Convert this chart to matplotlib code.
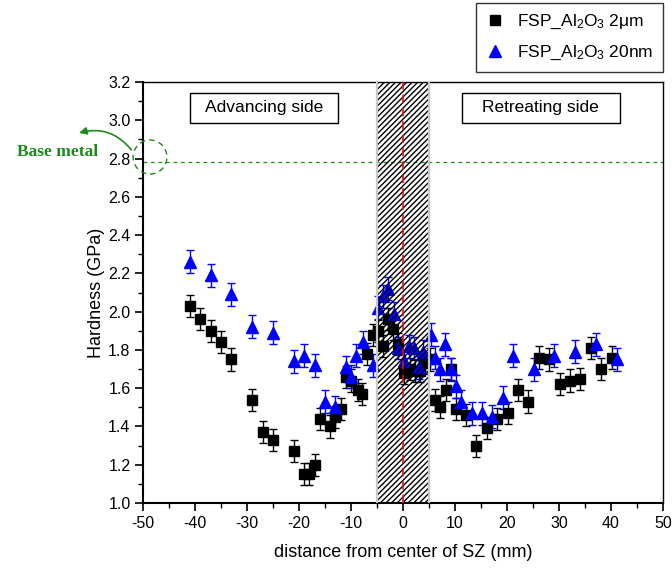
import matplotlib
matplotlib.use("Agg")
import matplotlib.pyplot as plt
from matplotlib.patches import Rectangle, Ellipse, FancyArrowPatch
from matplotlib.lines import Line2D
from matplotlib.ticker import MultipleLocator

plt.rcParams["font.family"] = ["Liberation Sans", "DejaVu Sans"]
plt.rcParams["mathtext.fontset"] = "custom"
plt.rcParams["mathtext.rm"] = "Liberation Sans"
plt.rcParams["mathtext.it"] = "Liberation Sans:italic"
plt.rcParams["hatch.linewidth"] = 1.0
plt.rcParams["axes.unicode_minus"] = False

# Hardness profile across the stir zone, FSP with 2 µm Al2O3 particles
dist_2um = [-41, -39, -37, -35, -33, -29, -27, -25, -21, -19, -18, -17, -16,
            -14, -13, -12, -11, -10, -8.6, -7.8, -7, -5.7, -4.75, -3.8, -2.8,
            -1.9, -0.9, 0.1, 1.3, 2.3, 3.3, 4.2, 5.2, 6.2, 7.1, 8.2, 9.2,
            10.2, 12.1, 14.1, 16.1, 18.1, 20.1, 22.1, 24.1, 26.1, 28.1, 30.1,
            32.1, 34.0, 36.1, 38.1, 40.1]
hard_2um = [2.03, 1.96, 1.90, 1.84, 1.75, 1.54, 1.37, 1.33, 1.27, 1.15, 1.15,
            1.20, 1.44, 1.40, 1.45, 1.49, 1.66, 1.64, 1.59, 1.57, 1.78, 1.88,
            1.90, 1.82, 1.96, 1.91, 1.83, 1.68, 1.70, 1.69, 1.69, 1.73, 1.75,
            1.54, 1.50, 1.59, 1.70, 1.49, 1.46, 1.30, 1.39, 1.44, 1.47, 1.59,
            1.53, 1.76, 1.75, 1.62, 1.64, 1.65, 1.81, 1.70, 1.76]
err_2um = 0.058

# Hardness profile across the stir zone, FSP with 20 nm Al2O3 particles
dist_20nm = [-41, -37, -33, -29, -25, -21, -19, -17, -15, -13, -11, -10, -9,
             -7.6, -5.8, -4.75, -3.8, -2.8, -1.7, -0.9, 0.2, 1.2, 2.1, 3.1,
             3.9, 5.3, 6.15, 7.1, 8.1, 9.2, 10.1, 11.2, 13.2, 15.1, 17.2,
             19.2, 21.1, 25.1, 29.1, 33.1, 37.1, 41.1]
hard_20nm = [2.26, 2.19, 2.09, 1.92, 1.89, 1.74, 1.77, 1.72, 1.53, 1.50,
             1.71, 1.66, 1.77, 1.84, 1.72, 2.02, 2.08, 2.12, 1.99, 1.81, 1.74,
             1.82, 1.81, 1.71, 1.79, 1.88, 1.76, 1.70, 1.83, 1.70, 1.61, 1.53,
             1.47, 1.47, 1.45, 1.55, 1.77, 1.70, 1.77, 1.79, 1.83, 1.75]
err_20nm = 0.06

label_2um = "FSP_Al$_2$O$_3$ 2μm"
label_20nm = "FSP_Al$_2$O$_3$ 20nm"

x_ticks = list(range(-50, 51, 10))
y_ticks = [1.0, 1.2, 1.4, 1.6, 1.8, 2.0, 2.2, 2.4, 2.6, 2.8, 3.0, 3.2]
base_metal_hardness = 2.78
sz_half_width = 5

GREEN = "#1a8a1a"
BLUE = "#0000ff"

fig = plt.figure(figsize=(6.72, 5.68), dpi=100)
ax = fig.add_axes([0.2128, 0.1144, 0.7738, 0.7412])

ax.errorbar(dist_2um, hard_2um, yerr=err_2um, fmt="s", ms=6.7,
            color="black", ecolor="black", elinewidth=1.0, capsize=3,
            capthick=1.0, zorder=3)
ax.errorbar(dist_20nm, hard_20nm, yerr=err_20nm, fmt="^", ms=8.7,
            color=BLUE, ecolor=BLUE, elinewidth=1.0, capsize=3,
            capthick=1.0, zorder=3)

# Stir zone band (hatched) and centre line
ax.add_patch(Rectangle((-sz_half_width, 0), 2 * sz_half_width, 1,
                       transform=ax.get_xaxis_transform(), facecolor="none",
                       edgecolor="black", hatch="//////", lw=0, zorder=5))
for xv in (-sz_half_width, sz_half_width):
    ax.axvline(xv, color="#c8c8c8", lw=1.6, zorder=5)
ax.axvline(0, color="#e01010", lw=1.2, ls=(0, (5, 3)), zorder=6)

# Base metal hardness reference
ax.axhline(base_metal_hardness, color=GREEN, lw=0.9, ls=(0, (3, 3)),
           zorder=2)
ax.add_patch(Ellipse((-48.65, 2.808), 6.5, 0.178, facecolor="none",
                     edgecolor=GREEN, lw=1.0, ls=(0, (4, 3)),
                     clip_on=False, zorder=6))
ax.add_patch(FancyArrowPatch((-51.9, 2.834), (-62.8, 2.93),
                             connectionstyle="arc3,rad=0.35",
                             arrowstyle="-|>", mutation_scale=11,
                             color=GREEN, lw=1.2, clip_on=False))
fig.text(0.0863, 0.7324, "Base metal", family="Liberation Serif",
         weight="bold", fontsize=12.5, color=GREEN,
         ha="center", va="center")

# Side labels
for x0, x1, txt in ((0.090, 0.375, "Advancing side"),
                    (0.613, 0.917, "Retreating side")):
    ax.add_patch(Rectangle((x0, 0.903), x1 - x0, 0.071,
                           transform=ax.transAxes, facecolor="white",
                           edgecolor="black", lw=1.0, zorder=7))
    ax.text((x0 + x1) / 2, 0.9385, txt, transform=ax.transAxes,
            ha="center", va="center", fontsize=12.5, zorder=8)

ax.set_xlim(-50, 50)
ax.set_ylim(1.0, 3.2)
ax.set_xticks(x_ticks)
ax.set_yticks(y_ticks)
ax.set_yticklabels([f"{v:.1f}" for v in y_ticks])
ax.xaxis.set_minor_locator(MultipleLocator(5))
ax.yaxis.set_minor_locator(MultipleLocator(0.1))
ax.tick_params(which="major", direction="out", length=6, width=1.2,
               labelsize=11.5, pad=3)
ax.tick_params(which="minor", direction="out", length=3.5, width=1.0)
for side in ("left", "bottom"):
    ax.spines[side].set_linewidth(1.5)
for side in ("top", "right"):
    ax.spines[side].set_linewidth(1.0)

ax.set_xlabel("distance from center of SZ (mm)", fontsize=13, labelpad=10)
ax.set_ylabel("Hardness (GPa)", fontsize=13, labelpad=2)

handles = [Line2D([], [], ls="none", marker="s", ms=6.7, color="black"),
           Line2D([], [], ls="none", marker="^", ms=8.7, color=BLUE)]
leg = fig.legend(handles, [label_2um, label_20nm], loc="upper right",
                 bbox_to_anchor=(0.9866, 0.9947), fontsize=12.5,
                 frameon=True, fancybox=False, borderaxespad=0,
                 handlelength=1.0, handletextpad=0.8, borderpad=0.55,
                 labelspacing=0.75)
leg.get_frame().set_edgecolor("black")
leg.get_frame().set_linewidth(1.0)

fig.savefig("out.png", dpi=100)
